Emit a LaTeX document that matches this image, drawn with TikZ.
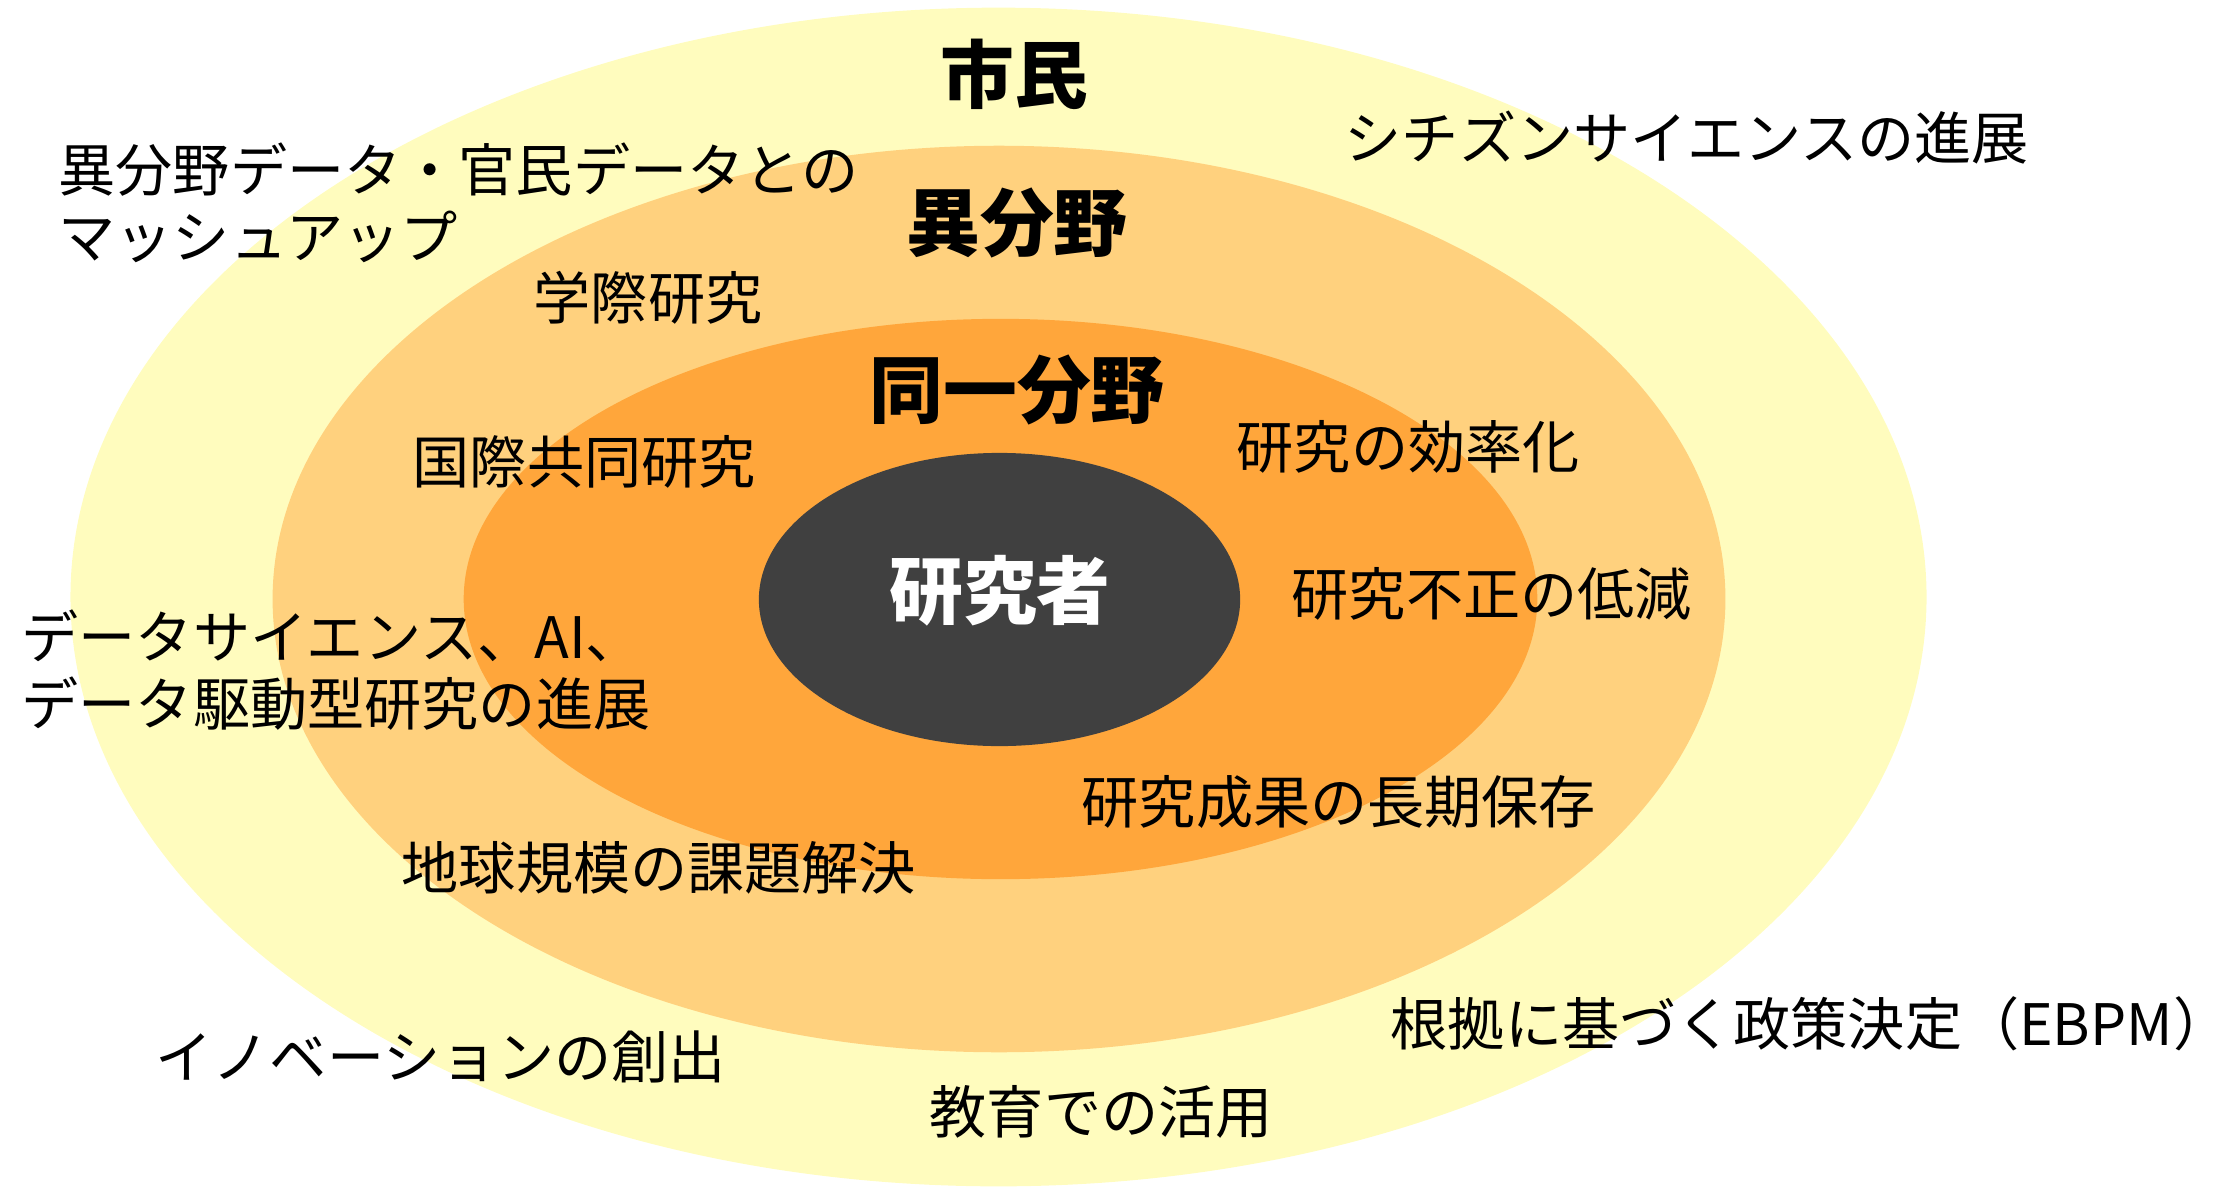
\documentclass[tikz,border=0pt]{standalone}
\usepackage{fontspec}
\setmainfont{Noto Sans CJK JP}
\usetikzlibrary{shapes.geometric}
\definecolor{ringA}{HTML}{FFFCBE}
\definecolor{ringB}{HTML}{FFD17E}
\definecolor{ringC}{HTML}{FFA63B}
\definecolor{coreD}{HTML}{404040}
\newcommand\lstrut{\rule[-0.12em]{0pt}{1em}}
\begin{document}
\begin{tikzpicture}[x=0.01cm,y=-0.01cm,
  ring/.style={ellipse, inner sep=0pt, draw=none},
  lbl/.style={anchor=west, inner sep=0pt, align=left, font=\fontsize{16.25}{19}\selectfont, text=black},
  ttl/.style={anchor=center, inner sep=0pt, font=\fontsize{21}{25}\selectfont\bfseries, text=black}]
\useasboundingbox (0,0) rectangle (2225,1188);
% rings
\node[ring, fill=ringA, minimum width=18.55cm, minimum height=11.78cm] (citizen) at (998.5,597) {};
\node[ring, fill=ringB, minimum width=14.52cm, minimum height=9.06cm] (other) at (999,599) {};
\node[ring, fill=ringC, minimum width=10.73cm, minimum height=5.60cm] (same) at (1000.5,599) {};
\node[ring, fill=coreD, minimum width=4.81cm, minimum height=2.93cm] (core) at (999.5,599.5) {};
% titles
\node[ttl] (tCitizen) at (1014,74) {\lstrut 市民};
\node[ttl] (tOther) at (1017,222) {\lstrut 異分野};
\node[ttl] (tSame) at (1017,389) {\lstrut 同一分野};
\node[ttl, text=white] (tCore) at (1000,590) {\lstrut 研究者};
% labels
\node[lbl] (l1) at (58,203.5) {\lstrut 異分野データ・官民データとの\\\lstrut マッシュアップ};
\node[lbl] (l2) at (1344,138) {\lstrut シチズンサイエンスの進展};
\node[lbl] (l3) at (533,298) {\lstrut 学際研究};
\node[lbl] (l4) at (412,462) {\lstrut 国際共同研究};
\node[lbl] (l5) at (1236,447) {\lstrut 研究の効率化};
\node[lbl] (l6) at (1291,594) {\lstrut 研究不正の低減};
\node[lbl] (l7) at (21,670) {\lstrut データサイエンス、AI、\\\lstrut データ駆動型研究の進展};
\node[lbl] (l8) at (1081,802) {\lstrut 研究成果の長期保存};
\node[lbl] (l9) at (401,868) {\lstrut 地球規模の課題解決};
\node[lbl] (l10) at (1390,1024) {\lstrut 根拠に基づく政策決定（EBPM）};
\node[lbl] (l11) at (155,1057) {\lstrut イノベーションの創出};
\node[lbl] (l12) at (929,1112) {\lstrut 教育での活用};
\end{tikzpicture}
\end{document}
